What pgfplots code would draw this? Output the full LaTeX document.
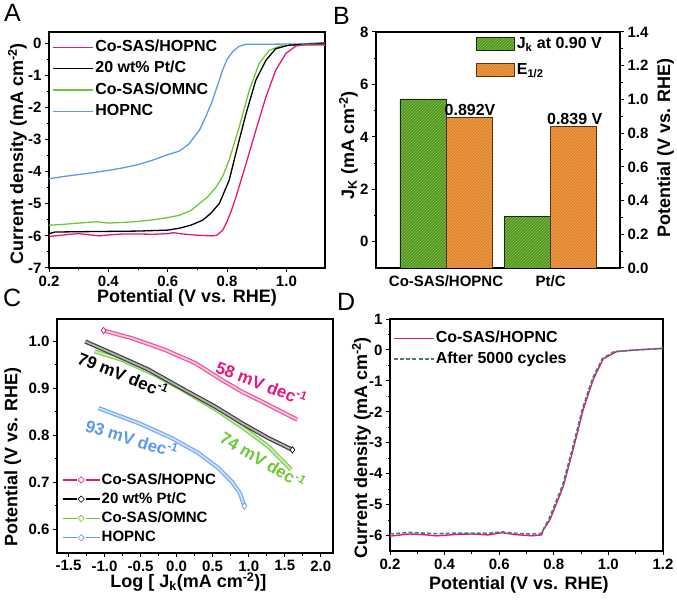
\documentclass[border=0pt]{standalone}
\usepackage{fontspec}
\setmainfont{Liberation Sans}
\usepackage{pgfplots}
\pgfplotsset{compat=1.18}
\usepackage{pgfplotstable}
\usetikzlibrary{patterns}

\definecolor{cpink}{RGB}{228,24,125}
\definecolor{cgreen}{RGB}{108,200,52}
\definecolor{cblue}{RGB}{92,152,236}
\definecolor{cteal}{RGB}{62,128,118}
\definecolor{bgreen}{RGB}{80,145,35}
\definecolor{bgreenl}{RGB}{135,200,75}
\definecolor{borange}{RGB}{222,128,38}
\definecolor{borangel}{RGB}{245,172,95}

\pgfplotstableread{
x y
0.20 -6.02
0.23 -5.99
0.27 -5.95
0.30 -5.93
0.33 -5.96
0.37 -6.00
0.40 -5.97
0.45 -5.94
0.50 -5.94
0.55 -5.95
0.60 -5.93
0.62 -5.90
0.65 -5.94
0.70 -5.98
0.75 -6.00
0.765 -5.98
0.785 -5.83
0.80 -5.55
0.815 -5.20
0.83 -4.79
0.864 -3.75
0.897 -2.71
0.931 -1.67
0.964 -0.84
0.998 -0.32
1.032 -0.09
1.06 -0.04
1.13 -0.03
}\Apink

\pgfplotstableread{
x y
0.20 -5.93
0.22 -5.88
0.30 -5.87
0.40 -5.86
0.50 -5.85
0.60 -5.82
0.64 -5.76
0.68 -5.66
0.718 -5.51
0.745 -5.30
0.774 -4.99
0.807 -4.27
0.835 -3.23
0.864 -2.19
0.897 -1.15
0.931 -0.53
0.964 -0.17
1.009 -0.06
1.05 -0.04
1.10 -0.02
1.13 0.00
}\Ablack

\pgfplotstableread{
x y
0.20 -5.67
0.25 -5.64
0.30 -5.60
0.36 -5.56
0.40 -5.60
0.45 -5.58
0.50 -5.55
0.55 -5.50
0.60 -5.43
0.639 -5.36
0.68 -5.20
0.707 -4.99
0.735 -4.78
0.763 -4.48
0.785 -4.15
0.807 -3.64
0.841 -2.61
0.875 -1.46
0.908 -0.63
0.942 -0.22
0.987 -0.06
1.13 -0.06
}\Agreen

\pgfplotstableread{
x y
0.20 -4.22
0.25 -4.15
0.30 -4.09
0.35 -4.03
0.40 -3.96
0.45 -3.88
0.50 -3.78
0.55 -3.64
0.60 -3.47
0.639 -3.36
0.67 -3.15
0.707 -2.71
0.73 -2.25
0.751 -1.78
0.77 -1.25
0.785 -0.84
0.80 -0.50
0.818 -0.27
0.84 -0.10
0.864 -0.03
0.95 -0.03
1.05 -0.02
1.13 0.02
}\Ablue

\pgfplotstableread{
x y
-1.014 1.0235
-0.621 1.007
-0.159 0.982
0.257 0.954
0.628 0.918
0.905 0.893
1.182 0.872
1.46 0.850
1.676 0.833
}\Cpink

\pgfplotstableread{
x y
-1.268 1.000
-0.852 0.972
-0.39 0.940
0.073 0.900
0.535 0.861
0.905 0.826
1.274 0.794
1.607 0.769
}\Cblack

\pgfplotstableread{
x y
-1.139 0.979
-0.759 0.961
-0.297 0.929
0.073 0.898
0.535 0.856
0.905 0.818
1.274 0.776
1.589 0.727
}\Cgreen

\pgfplotstableread{
x y
-1.084 0.858
-0.529 0.826
-0.066 0.794
0.303 0.762
0.58 0.730
0.766 0.701
0.881 0.676
0.941 0.649
}\Cblue

\pgfplotstableread{
x y
0.20 -6.02
0.27 -5.95
0.32 -5.97
0.37 -6.01
0.45 -5.96
0.50 -5.95
0.56 -5.98
0.61 -5.91
0.66 -5.97
0.72 -6.01
0.755 -5.98
0.762 -5.81
0.786 -5.49
0.835 -4.40
0.871 -3.21
0.908 -1.92
0.945 -0.94
0.981 -0.29
1.03 -0.05
1.10 0.00
1.20 0.05
}\Dpink

\pgfplotstableread{
x y
0.20 -5.95
0.27 -5.90
0.32 -5.92
0.37 -5.94
0.45 -5.92
0.50 -5.92
0.56 -5.93
0.61 -5.88
0.66 -5.93
0.72 -5.95
0.752 -5.94
0.76 -5.83
0.783 -5.45
0.832 -4.38
0.868 -3.20
0.905 -1.90
0.942 -0.92
0.978 -0.28
1.02 -0.06
1.10 0.00
1.20 0.05
}\Dteal

\pgfplotsset{
  myaxis/.style={
    scale only axis,
    anchor=south west,
    axis line style={line width=1.2pt},
    tick style={line width=1pt, black},
    major tick length=4pt, minor tick length=2.5pt,
    tick align=outside,
    tick pos=left,
    minor tick num=1,
    /pgf/number format/assume math mode=true,
    tick label style={font=\fontsize{15}{18}\selectfont\bfseries},
    label style={font=\fontsize{18}{21}\selectfont\bfseries},
    legend cell align=left,
  },
}

\begin{document}
\begin{tikzpicture}
\useasboundingbox (0,0) rectangle (677pt,605pt);

% ---------------- Panel A ----------------
\begin{axis}[myaxis, at={(49pt,337pt)}, width=276pt, height=236pt,
  xmin=0.2, xmax=1.13, ymin=-7, ymax=0.35,
  xtick={0.2,0.4,0.6,0.8,1.0}, ytick={-7,-6,-5,-4,-3,-2,-1,0},
  xticklabel style={/pgf/number format/.cd, fixed, fixed zerofill, precision=1},
  xlabel={Potential (V vs. RHE)},
  ylabel={Current density (mA cm\textsuperscript{-2})},
  xlabel style={at={(axis description cs:0.5,-0.148)}, anchor=base},
  ylabel style={at={(axis description cs:-0.094,0.483)}, anchor=base},
  legend style={at={(axis description cs:0.012,0.975)}, anchor=north west, draw=none, fill=none,
    font=\fontsize{16}{19}\selectfont\bfseries, row sep=2.6pt, inner sep=0pt,
    nodes={inner sep=1.6pt, text height=12pt, text depth=3.5pt}},
  legend image code/.code={\draw[#1] (0pt,0pt) -- (40pt,0pt);},
]
\addplot[cblue, line width=1.3pt] table {\Ablue};
\addplot[cgreen, line width=1.3pt] table {\Agreen};
\addplot[black, line width=1.3pt] table {\Ablack};
\addplot[cpink, line width=1.3pt] table {\Apink};
\legend{}
\end{axis}
\begin{axis}[myaxis, at={(49pt,337pt)}, width=276pt, height=236pt,
  xmin=0.2, xmax=1.13, ymin=-7, ymax=0.35, hide axis,
  legend style={at={(axis description cs:0.012,0.975)}, anchor=north west, draw=none, fill=none,
    font=\fontsize{16}{19}\selectfont\bfseries, row sep=2.6pt, inner sep=0pt,
    nodes={inner sep=1.6pt, text height=12pt, text depth=3.5pt}},
  legend image code/.code={\draw[#1] (0pt,0pt) -- (40pt,0pt);},
]
\addlegendimage{cpink, line width=1.3pt}
\addlegendentry{Co-SAS/HOPNC}
\addlegendimage{black, line width=1.3pt}
\addlegendentry{20 wt\% Pt/C}
\addlegendimage{cgreen, line width=1.3pt}
\addlegendentry{Co-SAS/OMNC}
\addlegendimage{cblue, line width=1.3pt}
\addlegendentry{HOPNC}
\end{axis}

% ---------------- Panel B ----------------
\begin{axis}[myaxis, at={(376pt,337pt)}, width=244pt, height=236pt,
  xmin=-0.669, xmax=1.662, ymin=0, ymax=9,
  xtick={0,1}, xticklabels={Co-SAS/HOPNC, Pt/C}, minor x tick num=0,
  every major x tick/.style={draw=none},
  ytick={1,3,5,7,9}, yticklabels={0,2,4,6,8},
  ylabel={J\textsubscript{K} (mA cm\textsuperscript{-2})},
  ylabel style={at={(axis description cs:-0.090,0.52)}, anchor=base},
]
\addplot[ybar, bar width=0.44, bar shift=-0.22, fill=bgreen, draw=black!70!bgreen, line width=0.6pt,
  postaction={pattern=north east lines, pattern color=bgreenl},
  y filter/.expression={y+1}] coordinates {(0,5.45) (1,0.97)};
\end{axis}
\begin{axis}[myaxis, at={(376pt,337pt)}, width=244pt, height=236pt,
  xmin=-0.669, xmax=1.662, ymin=0, ymax=1.4,
  hide x axis, axis y line*=right, ytick pos=right, yticklabel pos=right,
  ytick={0,0.2,0.4,0.6,0.8,1.0,1.2,1.4},
  yticklabel style={/pgf/number format/.cd, fixed, fixed zerofill, precision=1},
  ylabel={Potential (V vs. RHE)},
  ylabel style={at={(axis description cs:1.205,0.508)}, anchor=base, rotate=0},
  legend style={at={(axis description cs:0.41,0.985)}, anchor=north west, draw=none, fill=none,
    font=\fontsize{16}{19}\selectfont\bfseries, row sep=9pt, inner sep=0pt, nodes={inner sep=2pt}},
  legend image code/.code={\draw[#1] (0pt,-6.5pt) rectangle (38pt,6.5pt);},
]
\addlegendimage{fill=bgreen, draw=black!70!bgreen, line width=0.6pt, postaction={pattern=north east lines, pattern color=bgreenl}}
\addlegendentry{J\textsubscript{k} at 0.90 V}
\addlegendimage{fill=borange, draw=black!60!borange, line width=0.6pt, postaction={pattern=north east lines, pattern color=borangel}}
\addlegendentry{E\textsubscript{1/2}}
\addplot[ybar, bar width=0.44, bar shift=0.22, fill=borange, draw=black!60!borange, line width=0.6pt,
  postaction={pattern=north east lines, pattern color=borangel}, forget plot,
  nodes near coords, point meta=explicit symbolic,
  nodes near coords style={font=\fontsize{16}{19}\selectfont\bfseries, text=black, anchor=south, inner sep=2pt, xshift=24pt}]
  coordinates {(0,0.892) [0.892V] (1,0.839) [0.839 V]};
\end{axis}

% ---------------- Panel C ----------------
\begin{axis}[myaxis, at={(57pt,52pt)}, width=276pt, height=234pt,
  xmin=-1.66, xmax=2.17, ymin=0.549, ymax=1.048,
  xtick={-1.5,-1,-0.5,0,0.5,1,1.5,2}, ytick={0.6,0.7,0.8,0.9,1.0},
  xticklabel style={/pgf/number format/.cd, fixed, fixed zerofill, precision=1},
  yticklabel style={/pgf/number format/.cd, fixed, fixed zerofill, precision=1},
  xlabel={Log [ J\textsubscript{k}(mA cm\textsuperscript{-2})]},
  ylabel={Potential (V vs. RHE)},
  xlabel style={at={(axis description cs:0.476,-0.148)}, anchor=base},
  ylabel style={at={(axis description cs:-0.144,0.41)}, anchor=base},
  legend style={at={(axis description cs:0.017,0.35)}, anchor=north west, draw=none, fill=none,
    font=\fontsize{15}{18}\selectfont\bfseries, row sep=2.2pt, inner sep=0pt,
    nodes={inner sep=1.3pt, text height=11.5pt, text depth=3pt}},
  legend image code/.code={\draw[#1] (0pt,0pt) -- (14pt,0pt); \draw[#1] (23pt,0pt) -- (37pt,0pt);
    \draw[#1, line width=0.6pt, fill=white] (18.5pt,0pt) +(-3.2pt,0pt) -- +(0pt,3.2pt) -- +(3.2pt,0pt) -- +(0pt,-3.2pt) -- cycle;},
]
\addplot[cgreen!90!white, line width=4.2pt, forget plot] table {\Cgreen};
\addplot[cgreen!35!white, line width=1.8pt, forget plot] table {\Cgreen};
\addplot[black!75, line width=4.2pt, forget plot] table {\Cblack};
\addplot[black!30, line width=1.8pt, forget plot] table {\Cblack};
\addplot[cpink!75!white, line width=4.2pt, forget plot] table {\Cpink};
\addplot[cpink!25!white, line width=1.8pt, forget plot] table {\Cpink};
\addplot[cblue!85!white, line width=4.2pt, forget plot] table {\Cblue};
\addplot[cblue!30!white, line width=1.8pt, forget plot] table {\Cblue};
\addplot[only marks, mark=diamond*, mark size=3.2pt, cpink, mark options={fill=white, line width=0.7pt}, mark indices={1}, forget plot] table {\Cpink};
\addplot[only marks, mark=diamond*, mark size=3.2pt, black, mark options={fill=white, line width=0.7pt}, mark indices={8}, forget plot] table {\Cblack};
\addplot[only marks, mark=diamond*, mark size=3.2pt, cblue, mark options={fill=white, line width=0.7pt}, mark indices={8}, forget plot] table {\Cblue};
\addlegendimage{cpink, line width=1.5pt}
\addlegendentry{Co-SAS/HOPNC}
\addlegendimage{black, line width=1.5pt}
\addlegendentry{20 wt\% Pt/C}
\addlegendimage{cgreen, line width=1.5pt}
\addlegendentry{Co-SAS/OMNC}
\addlegendimage{cblue, line width=1.5pt}
\addlegendentry{HOPNC}
\node[rotate=-21, text=cpink, font=\fontsize{17}{20}\selectfont\bfseries] at (axis cs:1.18,0.912) {58 mV dec\textsuperscript{-1}};
\node[rotate=-22, text=black, font=\fontsize{17}{20}\selectfont\bfseries] at (axis cs:-0.74,0.93) {79 mV dec\textsuperscript{-1}};
\node[rotate=-17, text=cblue, font=\fontsize{17}{20}\selectfont\bfseries] at (axis cs:-0.62,0.794) {93 mV dec\textsuperscript{-1}};
\node[rotate=-31, text=cgreen, font=\fontsize{17}{20}\selectfont\bfseries] at (axis cs:1.20,0.748) {74 mV dec\textsuperscript{-1}};
\end{axis}

% ---------------- Panel D ----------------
\begin{axis}[myaxis, at={(390pt,54pt)}, width=273pt, height=232pt,
  xmin=0.2, xmax=1.2, ymin=-6.5, ymax=1,
  xtick={0.2,0.4,0.6,0.8,1.0,1.2}, ytick={-6,-5,-4,-3,-2,-1,0,1},
  xticklabel style={/pgf/number format/.cd, fixed, fixed zerofill, precision=1},
  xlabel={Potential (V vs. RHE)},
  ylabel={Current density (mA cm\textsuperscript{-2})},
  xlabel style={at={(axis description cs:0.472,-0.164)}, anchor=base},
  ylabel style={at={(axis description cs:-0.084,0.444)}, anchor=base},
  legend style={at={(axis description cs:0.01,0.955)}, anchor=north west, draw=none, fill=none,
    font=\fontsize{16}{19}\selectfont\bfseries, row sep=2pt, inner sep=0pt,
    nodes={inner sep=1.3pt, text height=12pt, text depth=3.5pt}},
  legend image code/.code={\draw[#1] (0pt,0pt) -- (40pt,0pt);},
]
\addplot[cpink, line width=1.4pt] table {\Dpink};
\addlegendentry{Co-SAS/HOPNC}
\addplot[cteal, line width=1.6pt, dash pattern=on 4pt off 2.2pt] table {\Dteal};
\addlegendentry{After 5000 cycles}
\end{axis}

% panel letters
\node[anchor=base west, inner sep=0pt, font=\fontsize{25}{28}\selectfont] at (4pt,583pt) {A};
\node[anchor=base west, inner sep=0pt, font=\fontsize{25}{28}\selectfont] at (333pt,580pt) {B};
\node[anchor=base west, inner sep=0pt, font=\fontsize{25}{28}\selectfont] at (3pt,298pt) {C};
\node[anchor=base west, inner sep=0pt, font=\fontsize{25}{28}\selectfont] at (337pt,294pt) {D};
\end{tikzpicture}
\end{document}
